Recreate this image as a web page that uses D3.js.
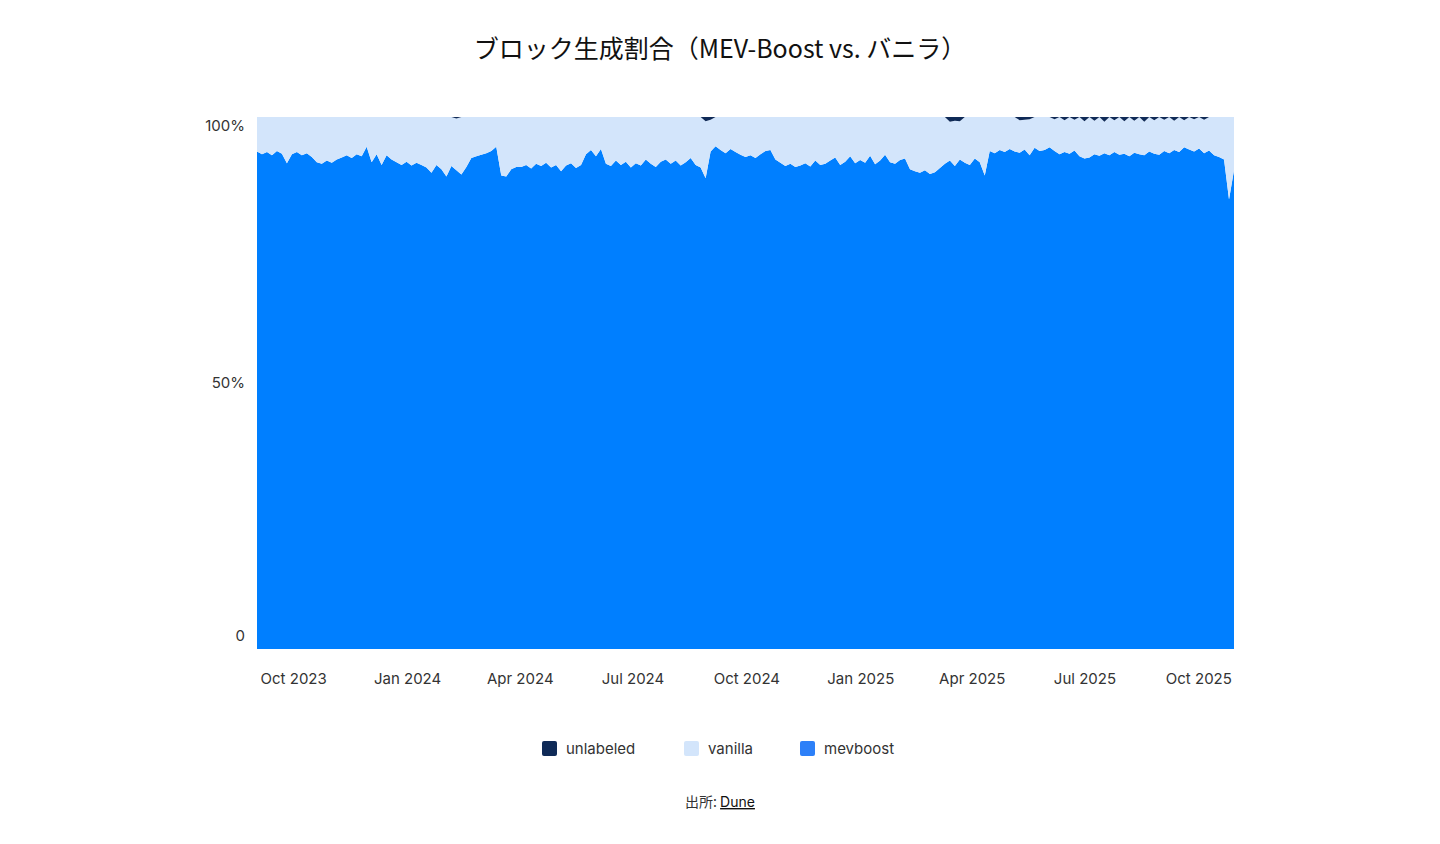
<!DOCTYPE html>
<html><head><meta charset="utf-8">
<script src="https://cdn.jsdelivr.net/npm/d3@7"></script>
<style>body{margin:0;background:#fff;font-family:Inter,"Noto Sans CJK JP",sans-serif}</style>
</head><body><svg id="c" width="1440" height="844"></svg>
<script>
const startDate = "2023-09-03", endDate = "2025-10-31";
const mevboost = [
93.5,93.0,93.4,92.8,93.6,93.1,91.3,93.0,93.4,92.8,93.2,92.5,
91.5,91.2,91.8,91.4,92.0,92.4,92.8,92.3,93.0,92.6,94.4,
91.5,93.0,91.0,92.8,92.0,91.5,91.0,91.6,90.9,91.4,91.0,
90.5,89.5,91.0,90.2,88.8,90.8,90.0,89.2,90.6,
92.3,92.6,92.9,93.2,93.6,94.4,89.0,88.8,90.2,90.6,
90.6,91.0,90.3,91.2,90.8,91.4,90.5,91.0,89.8,90.9,91.3,90.4,91.0,
93.0,93.8,92.6,94.0,
91.2,90.8,91.8,91.0,91.6,90.5,91.3,90.9,92.0,91.2,90.6,
91.6,92.0,91.2,91.8,90.9,91.5,92.3,91.0,90.5,88.5,
93.5,94.5,93.8,93.2,94.0,93.4,92.9,92.5,92.8,92.3,93.0,93.6,93.8,
92.0,91.4,90.8,91.2,90.6,90.9,91.3,90.7,91.8,91.0,
91.2,91.8,92.4,91.0,91.6,92.6,91.3,91.9,91.4,92.7,91.1,91.8,92.9,91.5,91.2,91.9,92.2,
90.2,89.8,89.5,90.0,89.3,89.6,90.4,
91.2,91.8,90.8,92.0,91.4,91.0,92.2,91.5,89.0,
93.6,93.2,93.8,93.4,94.0,93.5,93.3,93.9,92.8,94.2,93.6,93.8,94.3,93.6,93.0,93.4,93.1,93.7,92.6,92.2,
92.4,93.0,92.7,93.2,92.8,93.4,92.9,93.1,92.6,93.3,93.0,92.8,93.5,93.1,92.9,93.6,93.2,93.8,93.4,94.3,93.9,93.5,94.1,93.2,93.7,92.8,92.5,92.0,
84.5,90.0
];
// sparse unlabeled share: [sample index, percent]
const unlabeledPts = [[40,0.3],[90,0.8],[91,0.5],[139,0.9],[140,0.7],[141,0.8],[153,0.6],[154,0.5],[155,0.4],
[160,0.4],[162,0.6],[164,0.5],[166,0.8],[168,0.7],[170,0.9],[172,0.6],[174,0.8],[176,0.7],[178,0.9],[180,0.6],[182,0.5],[184,0.7],[186,0.6],[188,0.4],[190,0.5]];
const yTicks = [0, 50, 100];
const yTickLabels = ["0", "50%", "100%"];
const xTickDates = ["2023-10-01","2024-01-01","2024-04-01","2024-07-01","2024-10-01","2025-01-01","2025-04-01","2025-07-01","2025-10-01"];
const xTickLabels = ["Oct 2023","Jan 2024","Apr 2024","Jul 2024","Oct 2024","Jan 2025","Apr 2025","Jul 2025","Oct 2025"];
const keys = ["mevboost","vanilla","unlabeled"];
const colors = {mevboost:"#007fff", vanilla:"#d3e5fb", unlabeled:"#0f2a57"};
const legendColors = {unlabeled:"#0f2a57", vanilla:"#d3e5fb", mevboost:"#2d80f8"};

const parse = d3.timeParse("%Y-%m-%d");
const t0 = parse(startDate), t1 = parse(endDate);
const n = mevboost.length;
const uMap = new Map(unlabeledPts);
const rows = mevboost.map((m,i)=>{
  const u = uMap.get(i) || 0;
  return {date: new Date(+t0 + (t1-t0)*i/(n-1)), mevboost:m, vanilla:100-m-u, unlabeled:u};
});
const svg = d3.select("#c");
const x = d3.scaleTime().domain([t0,t1]).range([257,1234]);
const y = d3.scaleLinear().domain([0,100]).range([649,117]);
const series = d3.stack().keys(keys)(rows);
const area = d3.area().x(d=>x(d.data.date)).y0(d=>y(d[0])).y1(d=>y(d[1]));
svg.append("g").selectAll("path").data(series).join("path")
  .attr("fill",d=>colors[d.key]).attr("d",area);

svg.append("text").attr("x",720).attr("y",58).attr("text-anchor","middle")
  .attr("font-family","'Noto Sans CJK JP',Inter,sans-serif").attr("font-size",25).attr("fill","#111")
  .text("ブロック生成割合（MEV-Boost vs. バニラ）");

svg.append("g").selectAll("text").data(yTicks).join("text")
  .attr("x",245).attr("y",d=>Math.min(Math.max(y(d),126),636)+5).attr("text-anchor","end")
  .attr("font-size",15).attr("fill","#333").text((d,i)=>yTickLabels[i]);

svg.append("g").selectAll("text").data(xTickDates).join("text")
  .attr("x",d=>x(parse(d))+2).attr("y",684).attr("text-anchor","middle")
  .attr("font-size",15).attr("fill","#333").text((d,i)=>xTickLabels[i]);

const legendItems = ["unlabeled","vanilla","mevboost"];
const lx = [542,684,800];
const lg = svg.append("g").selectAll("g").data(legendItems).join("g")
  .attr("transform",(d,i)=>`translate(${lx[i]},741)`);
lg.append("rect").attr("width",15).attr("height",15).attr("rx",2).attr("fill",d=>legendColors[d]);
lg.append("text").attr("x",24).attr("y",13).attr("font-size",15).attr("fill","#333").text(d=>d);

const f = svg.append("text").attr("x",720).attr("y",807).attr("text-anchor","middle")
  .attr("font-size",14).attr("fill","#333");
f.append("tspan").attr("font-family","'Noto Sans CJK JP',sans-serif").text("出所: ");
f.append("tspan").attr("text-decoration","underline").attr("fill","#111").text("Dune");
</script></body></html>
